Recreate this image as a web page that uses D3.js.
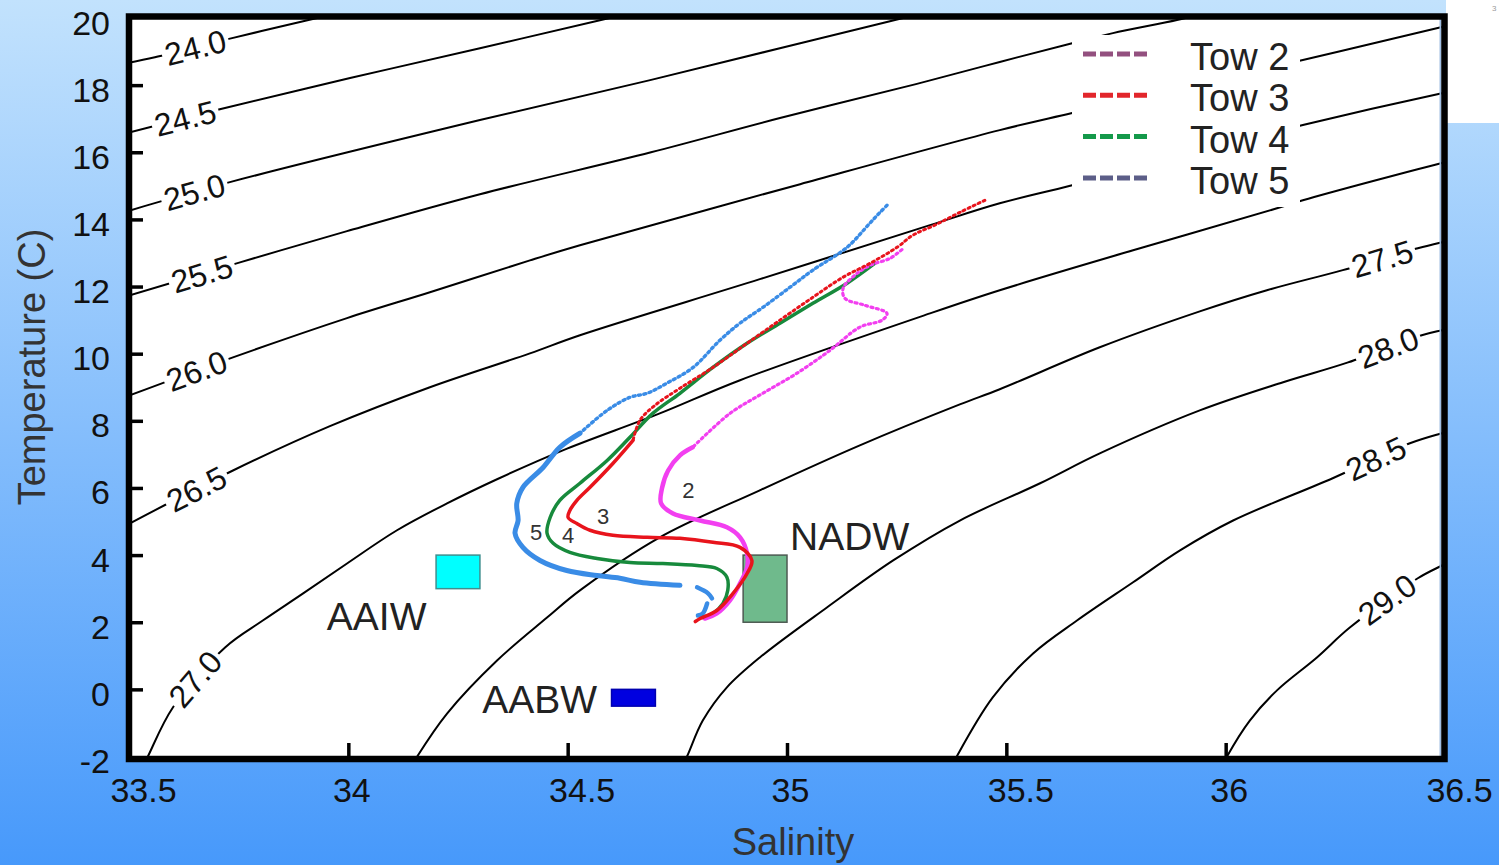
<!DOCTYPE html>
<html>
<head>
<meta charset="utf-8">
<script src="https://cdn.jsdelivr.net/npm/d3@7"></script>
<style>
    html, body { margin: 0; padding: 0; overflow: hidden; }
    svg { display: block; font-family: "Liberation Sans", Arial, sans-serif; }
</style>
</head>
<body>
<div id="chart"></div>
<script>
// axis ticks
var salTicks = [33.5, 34, 34.5, 35, 35.5, 36, 36.5];
var tempTicks = [-2, 0, 2, 4, 6, 8, 10, 12, 14, 16, 18, 20];

// sigma-theta isopycnals, [salinity, temperature]
var iso240 = [[33.50,18.67],[33.559,18.83],[33.735,19.40],[33.919,19.97],[33.981,20.15]];
var iso245 = [[33.50,16.59],[33.707,17.28],[34.004,18.21],[34.300,19.10],[34.576,19.94],[34.642,20.15]];
var iso250 = [[33.50,14.26],[33.730,15.11],[34.300,16.96],[34.688,18.15],[34.993,19.13],[35.237,19.91],[35.303,20.12]];
var iso255 = [[33.50,11.73],[33.753,12.72],[33.997,13.65],[34.300,14.75],[34.690,16.00],[34.984,17.02],[35.294,18.03],[35.485,18.69],[35.650,19.25],[35.743,19.55],[35.889,19.94],[35.964,20.18]];
var iso260 = [[33.50,8.75],[33.737,9.89],[33.997,11.06],[34.186,11.83],[34.414,12.78],[34.528,13.23],[35.030,15.05],[35.485,16.66],[35.650,17.17],[36.176,18.75],[36.493,19.73],[36.52,19.80]];
var iso265 = [[33.50,4.93],[33.737,6.52],[33.958,7.84],[34.186,9.00],[34.414,10.01],[34.528,10.55],[34.938,12.22],[35.326,13.83],[35.485,14.48],[35.650,15.02],[36.176,16.81],[36.493,17.76],[36.52,17.83]];
var iso270 = [[33.527,-2.42],[33.543,-2.0],[33.600,-0.54],[33.719,1.25],[33.805,2.05],[33.897,2.86],[33.997,3.75],[34.111,4.74],[34.225,5.54],[34.339,6.26],[34.489,7.12],[34.710,8.22],[34.893,9.21],[35.326,11.20],[35.485,11.89],[35.789,13.08],[36.117,14.33],[36.176,14.57],[36.493,15.68],[36.52,15.76]];
var iso275 = [[34.136,-2.48],[34.157,-2.0],[34.225,-0.72],[34.339,0.86],[34.453,2.14],[34.528,2.95],[34.710,4.53],[34.938,5.93],[35.166,7.27],[35.394,8.49],[35.485,8.94],[35.713,10.19],[35.941,11.26],[36.094,11.89],[36.267,12.49],[36.438,13.14],[36.493,13.32],[36.52,13.40]];
var iso280 = [[34.756,-2.42],[34.772,-2.0],[34.808,-0.93],[34.863,0.06],[34.938,0.95],[35.091,2.44],[35.242,3.84],[35.394,5.03],[35.577,6.14],[35.713,7.03],[35.941,8.31],[36.131,9.15],[36.279,9.74],[36.447,10.55],[36.493,10.70],[36.52,10.78]];
var iso285 = [[35.371,-2.42],[35.387,-2.0],[35.469,-0.24],[35.561,1.07],[35.661,2.05],[35.789,3.19],[35.896,4.14],[36.017,5.03],[36.244,6.29],[36.420,7.33],[36.493,7.63],[36.52,7.73]];
var iso290 = [[35.987,-2.42],[36.003,-2.0],[36.055,-0.93],[36.117,-0.03],[36.208,0.95],[36.283,1.84],[36.438,3.31],[36.493,3.69],[36.52,3.87]];

var isoLevels = ["24.0", "24.5", "25.0", "25.5", "26.0", "26.5", "27.0", "27.5", "28.0", "28.5", "29.0"];
var isoLines = [iso240, iso245, iso250, iso255, iso260, iso265, iso270, iso275, iso280, iso285, iso290];
// salinity where each level is written on its line
var isoLabelSal = [33.650, 33.628, 33.650, 33.666, 33.653, 33.653, 33.650, 36.356, 36.370, 36.343, 36.368];

// tow profiles, [salinity, temperature]; "Dots" = sparse upper part, "Line" = dense lower part
var tow2Dots = [[35.262,13.10],[35.235,12.84],[35.189,12.63],[35.155,12.34],[35.128,11.95],[35.132,11.65],[35.178,11.44],[35.228,11.20],[35.217,11.00],[35.166,10.79],[35.098,10.10],[35.023,9.42],[34.945,8.82],[34.870,8.22],[34.785,7.21]];
var tow2Line = [[34.785,7.21],[34.756,6.97],[34.729,6.52],[34.715,5.99],[34.713,5.54],[34.740,5.24],[34.802,5.03],[34.863,4.83],[34.893,4.53],[34.909,4.05],[34.909,3.63],[34.893,3.16],[34.870,2.65],[34.840,2.26],[34.813,2.11]];
var tow3Dots = [[35.451,14.57],[35.394,14.21],[35.337,13.83],[35.287,13.53],[35.251,13.17],[35.189,12.69],[35.128,12.28],[35.059,11.68],[34.984,11.00],[34.909,10.31],[34.831,9.59],[34.756,8.97],[34.699,8.46],[34.665,8.02],[34.649,7.42]];
var tow3Line = [[34.649,7.42],[34.603,6.73],[34.551,6.02],[34.521,5.63],[34.505,5.33],[34.501,5.12],[34.521,4.94],[34.551,4.74],[34.603,4.59],[34.681,4.53],[34.756,4.50],[34.831,4.38],[34.893,4.23],[34.920,3.84],[34.909,3.45],[34.877,2.86],[34.840,2.35],[34.802,2.11],[34.791,2.02]];
var tow4Line = [[35.200,12.69],[35.137,12.10],[35.059,11.50],[34.984,10.91],[34.909,10.31],[34.831,9.59],[34.756,8.82],[34.694,8.22],[34.642,7.51],[34.590,6.82],[34.528,6.14],[34.482,5.63],[34.460,5.12],[34.453,4.65],[34.467,4.35],[34.505,4.08],[34.567,3.90],[34.642,3.78],[34.717,3.75],[34.795,3.69],[34.840,3.60],[34.863,3.34],[34.865,2.95],[34.854,2.56],[34.831,2.26],[34.808,2.14]];
var tow5Dots = [[35.228,14.42],[35.212,14.21],[35.189,13.89],[35.137,13.17],[35.059,12.49],[35.007,11.98],[34.945,11.38],[34.893,10.91],[34.847,10.40],[34.786,9.59],[34.726,9.12],[34.681,8.82],[34.642,8.70],[34.590,8.31],[34.528,7.63]];
var tow5Line = [[34.528,7.63],[34.482,7.21],[34.444,6.61],[34.398,6.02],[34.384,5.54],[34.387,5.03],[34.380,4.65],[34.398,4.23],[34.437,3.84],[34.498,3.54],[34.567,3.39],[34.619,3.31],[34.665,3.19],[34.756,3.10]];
var tow5Bits = [[[34.795,3.04],[34.820,2.86],[34.829,2.71]], [[34.818,2.56],[34.808,2.26],[34.797,2.20]]];

var towNumbers = ["2", "3", "4", "5"];
var towNumberAt = [[34.761,5.69],[34.567,4.94],[34.487,4.35],[34.414,4.44]];

// legend
var legendNames = ["Tow 2", "Tow 3", "Tow 4", "Tow 5"];
var legendColors = ["#93507f", "#e2262b", "#14994a", "#5c5e88"];

// water masses: salinity range, temperature range, label anchor
var massNames = ["AAIW", "NADW", "AABW"];
var massSal = [[34.2,34.3],[34.9,35.0],[34.6,34.7]];
var massTemp = [[3,4],[2,4],[-0.5,0]];
var massLabelAt = [[33.951,1.76],[35.007,4.14],[34.305,-0.69]];
var massFill = ["#00ffff", "#6fba8c", "#0000e0"];
var massStroke = ["#3f8f8f", "#4d5a52", "#0000b0"];

var W = 1499, H = 865;
var x = d3.scaleLinear().domain([33.5, 36.5]).range([129, 1445]);
var y = d3.scaleLinear().domain([-2, 20]).range([756.5, 18]);

var svg = d3.select("#chart").append("svg").attr("width", W).attr("height", H);
var defs = svg.append("defs");
var grad = defs.append("linearGradient").attr("id", "bg")
    .attr("x1", 0).attr("y1", 0).attr("x2", 0).attr("y2", 1);
grad.append("stop").attr("offset", "0%").attr("stop-color", "#c2e2fd");
grad.append("stop").attr("offset", "100%").attr("stop-color", "#4799fb");
defs.append("clipPath").attr("id", "plotClip").append("rect")
    .attr("x", 129).attr("y", 16.5).attr("width", 1315.5).attr("height", 742.5);

svg.append("rect").attr("width", W).attr("height", H).attr("fill", "url(#bg)");
svg.append("rect").attr("x", 1446).attr("y", 0).attr("width", 53).attr("height", 123).attr("fill", "#fff");
svg.append("text").attr("x", 1492).attr("y", 11).attr("font-size", 8).attr("fill", "#999").text("3");

// plot area
svg.append("rect").attr("x", 129).attr("y", 16.5).attr("width", 1315.5).attr("height", 742.5).attr("fill", "#fff");

var isoLine = d3.line()
    .x(function (d) { return x(d[0]); })
    .y(function (d) { return y(d[1]); })
    .curve(d3.curveCatmullRom.alpha(0.5));

var contourGroup = svg.append("g").attr("clip-path", "url(#plotClip)");
var paths = isoLines.map(function (pts) {
    return contourGroup.append("path")
        .attr("d", isoLine(pts))
        .attr("fill", "none")
        .attr("stroke", "#000")
        .attr("stroke-width", 2);
});

// find where a path crosses a given x, and its direction there
function pointAtX(node, px) {
    var len = node.getTotalLength(), best = 0, bd = Infinity;
    for (var l = 0; l <= len; l += 1) {
        var pt = node.getPointAtLength(l);
        var dd = Math.abs(pt.x - px);
        if (dd < bd) { bd = dd; best = l; }
    }
    var a = node.getPointAtLength(Math.max(0, best - 6));
    var b = node.getPointAtLength(Math.min(len, best + 6));
    var p = node.getPointAtLength(best);
    return { x: p.x, y: p.y, angle: Math.atan2(b.y - a.y, b.x - a.x) * 180 / Math.PI };
}

var labelGroup = svg.append("g");
isoLevels.forEach(function (lvl, i) {
    var p = pointAtX(paths[i].node(), x(isoLabelSal[i]));
    var g = labelGroup.append("g")
        .attr("transform", "translate(" + p.x + "," + p.y + ") rotate(" + p.angle + ")");
    var t = g.append("text")
        .attr("text-anchor", "middle")
        .attr("dy", "0.36em")
        .attr("font-size", 32)
        .attr("fill", "#111")
        .text(lvl);
    var bb = t.node().getBBox();
    g.insert("rect", "text")
        .attr("x", bb.x - 3).attr("y", bb.y + 3)
        .attr("width", bb.width + 6).attr("height", bb.height - 6)
        .attr("fill", "#fff");
});

// water mass boxes
massNames.forEach(function (name, i) {
    svg.append("rect")
        .attr("x", x(massSal[i][0]))
        .attr("y", y(massTemp[i][1]))
        .attr("width", x(massSal[i][1]) - x(massSal[i][0]))
        .attr("height", y(massTemp[i][0]) - y(massTemp[i][1]))
        .attr("fill", massFill[i])
        .attr("stroke", massStroke[i])
        .attr("stroke-width", 1.5);
    svg.append("text")
        .attr("x", x(massLabelAt[i][0]))
        .attr("y", y(massLabelAt[i][1]))
        .attr("font-size", 39)
        .attr("fill", "#222")
        .text(name);
});

// tows
var towLine = d3.line()
    .x(function (d) { return x(d[0]); })
    .y(function (d) { return y(d[1]); })
    .curve(d3.curveCatmullRom.alpha(0.5));

function drawTow(pts, color, width, dotted) {
    var p = svg.append("path")
        .attr("d", towLine(pts))
        .attr("fill", "none")
        .attr("stroke", color)
        .attr("stroke-width", width)
        .attr("stroke-linejoin", "round")
        .attr("stroke-linecap", "round");
    if (dotted) p.attr("stroke-dasharray", "2 3.5");
}

drawTow(tow5Dots, "#3a8ce6", 3.4, true);
drawTow(tow5Line, "#3a8ce6", 5, false);
tow5Bits.forEach(function (b) { drawTow(b, "#3a8ce6", 4.5, false); });
drawTow(tow4Line, "#178a3c", 3.5, false);
drawTow(tow2Dots, "#f23ff0", 3.2, true);
drawTow(tow2Line, "#f23ff0", 4.5, false);
drawTow(tow3Dots, "#e8141c", 3, true);
drawTow(tow3Line, "#e8141c", 3.5, false);

towNumbers.forEach(function (n, i) {
    svg.append("text")
        .attr("x", x(towNumberAt[i][0]))
        .attr("y", y(towNumberAt[i][1]))
        .attr("font-size", 22)
        .attr("fill", "#333")
        .text(n);
});

// legend
var legend = svg.append("g");
legend.append("rect").attr("x", 1072).attr("y", 35).attr("width", 228).attr("height", 172).attr("fill", "#fff");
legendNames.forEach(function (name, i) {
    var ly = 54 + i * 41.3;
    legend.append("line")
        .attr("x1", 1083).attr("x2", 1148)
        .attr("y1", ly).attr("y2", ly)
        .attr("stroke", legendColors[i])
        .attr("stroke-width", 5)
        .attr("stroke-dasharray", "13 4");
    legend.append("text")
        .attr("x", 1190).attr("y", ly + 16)
        .attr("font-size", 38)
        .attr("fill", "#222")
        .text(name);
});

// thin strip inside the right frame edge
svg.append("line").attr("x1", 1440.5).attr("x2", 1440.5).attr("y1", 19).attr("y2", 756)
    .attr("stroke", "#9fbde2").attr("stroke-width", 2);

// frame
svg.append("rect").attr("x", 129).attr("y", 16.5).attr("width", 1315.5).attr("height", 742.5)
    .attr("fill", "none").attr("stroke", "#000").attr("stroke-width", 6.5);

// inward ticks
var yTicks = svg.append("g").attr("transform", "translate(129,0)")
    .call(d3.axisRight(y).tickValues(tempTicks.slice(1, -1)).tickSize(14).tickFormat(""));
var xTicks = svg.append("g").attr("transform", "translate(0,759)")
    .call(d3.axisTop(x).tickValues(salTicks.slice(1, -1)).tickSize(16).tickFormat(""));
[yTicks, xTicks].forEach(function (g) {
    g.select(".domain").remove();
    g.selectAll(".tick line").attr("stroke", "#000").attr("stroke-width", 3.5);
});

// tick labels
var yLabels = svg.append("g").attr("transform", "translate(129,0)")
    .call(d3.axisLeft(y).tickValues(tempTicks).tickSize(0).tickFormat(function (d) { return String(d); }));
yLabels.select(".domain").remove();
yLabels.selectAll(".tick text")
    .attr("x", -19).attr("dy", 16)
    .attr("font-size", 34).attr("font-family", "Liberation Sans, Arial, sans-serif")
    .attr("fill", "#111");

var xLabels = svg.append("g").attr("transform", "translate(0,759)")
    .call(d3.axisBottom(x).tickValues(salTicks).tickSize(0).tickFormat(function (d) { return String(d); }));
xLabels.select(".domain").remove();
xLabels.selectAll(".tick text")
    .attr("y", 43).attr("dy", 0)
    .attr("dx", function (d) { return String(d).indexOf(".") >= 0 ? 14 : 3; })
    .attr("font-size", 34).attr("font-family", "Liberation Sans, Arial, sans-serif")
    .attr("fill", "#111");

// axis titles
svg.append("text")
    .attr("transform", "translate(45,367) rotate(-90)")
    .attr("text-anchor", "middle")
    .attr("font-size", 38)
    .attr("fill", "#333")
    .text("Temperature (C)");
svg.append("text")
    .attr("x", 793).attr("y", 855)
    .attr("text-anchor", "middle")
    .attr("font-size", 38)
    .attr("fill", "#333")
    .text("Salinity");
</script>
</body>
</html>
